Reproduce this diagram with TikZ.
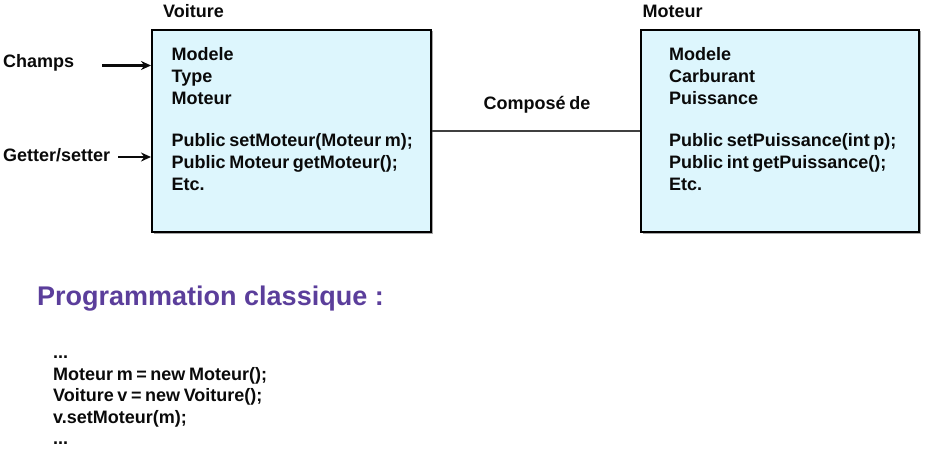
\documentclass[tikz,border=0pt]{standalone}
\usepackage{fontspec}
\setmainfont{Liberation Sans}
\usetikzlibrary{arrows.meta,shadows}
\definecolor{boxfill}{HTML}{DDF6FD}
\definecolor{txt}{HTML}{0A0A0A}
\definecolor{titlepurple}{HTML}{5B3E9B}
\definecolor{linegray}{HTML}{404040}
\newcommand{\mytight}{\spaceskip=0.2em plus 0.05em\relax}
\tikzset{
  classbox/.style={draw=black, line width=2pt, fill=boxfill, rectangle, inner sep=0pt,
    drop shadow={shadow xshift=1.5pt, shadow yshift=-1.5pt, fill=gray!70, opacity=1}},
  lbl/.style={anchor=base west, inner sep=0pt, text=txt, font=\fontsize{18}{21.5}\selectfont\bfseries\mytight},
  arr/.style={-{Stealth[length=10pt,width=9pt]}, line width=2.6pt, draw=txt},
  conn/.style={line width=2.6pt, draw=linegray}
}
\begin{document}
\begin{tikzpicture}[x=1pt,y=-1pt]
\useasboundingbox (0,0) rectangle (935,460);
% boxes
\node[classbox, minimum width=279pt, minimum height=202pt] (voiture) at (291.5,131) {};
\node[classbox, minimum width=278pt, minimum height=202pt] (moteur) at (780,131) {};
% titles
\node[lbl] (tv) at (163,18) {Voiture};
\node[lbl] (tm) at (642.5,18) {Moteur};
% Voiture contents
\node[lbl] (v1) at (171.5,61) {Modele};
\node[lbl] (v2) at (171.5,82.5) {Type};
\node[lbl] (v3) at (171.5,104) {Moteur};
\node[lbl] (v4) at (171.5,146.5) {Public setMoteur(Moteur m);};
\node[lbl] (v5) at (171.5,168) {Public Moteur getMoteur();};
\node[lbl] (v6) at (171.5,190) {Etc.};
% Moteur contents
\node[lbl] (m1) at (669,61) {Modele};
\node[lbl] (m2) at (669,82.5) {Carburant};
\node[lbl] (m3) at (669,104) {Puissance};
\node[lbl] (m4) at (669,146.5) {Public setPuissance(int p);};
\node[lbl] (m5) at (669,168) {Public int getPuissance();};
\node[lbl] (m6) at (669,190) {Etc.};
% side labels
\node[lbl] (champs) at (3,68) {Champs};
\node[lbl] (getset) at (3,161.5) {Getter/setter};
\coordinate (ca) at (102,65.5);
\coordinate (ga) at (118,157);
\draw[arr] (ca) -- (ca -| voiture.west);
\draw[arr] (ga) -- (ga -| voiture.west);
% connector
\node[lbl] (comp) at (483.5,110) {Composé de};
\coordinate (cy) at (0,131);
\draw[conn] (cy -| voiture.east) -- (cy -| moteur.west);
% title
\node[anchor=base west, inner sep=0pt, text=titlepurple, font=\fontsize{27}{32}\selectfont\bfseries] (prog) at (37,305) {Programmation classique :};
% code
\node[lbl] (c0) at (53,358) {...};
\node[lbl] (c1) at (53,380) {Moteur m = new Moteur();};
\node[lbl] (c2) at (53,401.5) {Voiture v = new Voiture();};
\node[lbl] (c3) at (53,423) {v.setMoteur(m);};
\node[lbl] (c4) at (53,444.5) {...};
\end{tikzpicture}
\end{document}
